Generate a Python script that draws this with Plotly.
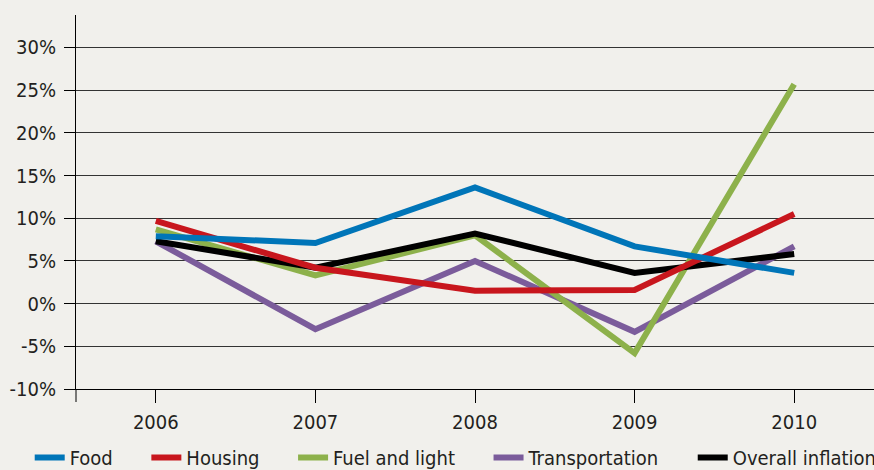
import plotly.graph_objects as go

years = ["2006", "2007", "2008", "2009", "2010"]
food = [7.9, 7.1, 13.6, 6.7, 3.6]
housing = [9.7, 4.2, 1.5, 1.6, 10.5]
fuel = [8.7, 3.3, 8.0, -5.8, 25.7]
transport = [7.3, -3.0, 5.0, -3.3, 6.7]
overall = [7.3, 4.2, 8.2, 3.6, 5.8]

y_ticks = [-10, -5, 0, 5, 10, 15, 20, 25, 30]
y_labels = [f"{v}%" for v in y_ticks]

FONT = "DejaVu Sans Condensed, Liberation Sans Narrow, sans-serif"
TXT = "#231f20"
BG = "#f1f0ec"
PAD = "\u00a0" * 5

# draw order bottom->top, legend order via legendrank
series = [
    ("Transportation", transport, "#7b5c9b", 4),
    ("Fuel and light", fuel, "#8db14b", 3),
    ("Overall inflation", overall, "#000000", 5),
    ("Housing", housing, "#c8161d", 2),
    ("Food", food, "#0075b8", 1),
]

fig = go.Figure()
for name, vals, col, rank in series:
    fig.add_trace(go.Scatter(
        x=years, y=vals, name=name + (PAD if rank < 5 else ""), mode="lines",
        line=dict(color=col, width=6), legendrank=rank,
    ))

fig.update_layout(
    width=874, height=470,
    margin=dict(l=76, r=0, t=15, b=81, autoexpand=False),
    paper_bgcolor=BG, plot_bgcolor=BG,
    font=dict(family=FONT, size=20, color=TXT),
    showlegend=True,
    legend=dict(orientation="h", x=-0.058, xanchor="left", y=-0.183, yanchor="middle",
                font=dict(size=20, family=FONT, color=TXT), bgcolor="rgba(0,0,0,0)",
                traceorder="normal", itemwidth=30),
    xaxis=dict(type="category", range=[-0.5, 4.5], showgrid=False,
               showline=True, linecolor="#000", linewidth=1,
               ticks="outside", ticklen=13, tickcolor="#000", tickwidth=1,
               ticklabelstandoff=2,
               tickfont=dict(size=20, family=FONT, color=TXT), fixedrange=True),
    yaxis=dict(range=[-10, 33.8], tickvals=y_ticks, ticktext=y_labels,
               showgrid=True, gridcolor="#333", gridwidth=1, zeroline=False,
               showline=True, linecolor="#000", linewidth=1,
               ticks="outside", ticklen=11, tickcolor="#000", tickwidth=1,
               ticklabelstandoff=4,
               tickfont=dict(size=20, family=FONT, color=TXT), fixedrange=True),
)
# extend the y-axis line below the plot area like the reference
fig.add_shape(type="line", xref="paper", yref="paper", x0=0, x1=0, y0=0, y1=-13/374,
              line=dict(color="#000", width=1))

fig.write_html("out.html", config={"displayModeBar": False},
               post_script="document.body.style.margin='0';document.body.style.background='%s';" % BG)
